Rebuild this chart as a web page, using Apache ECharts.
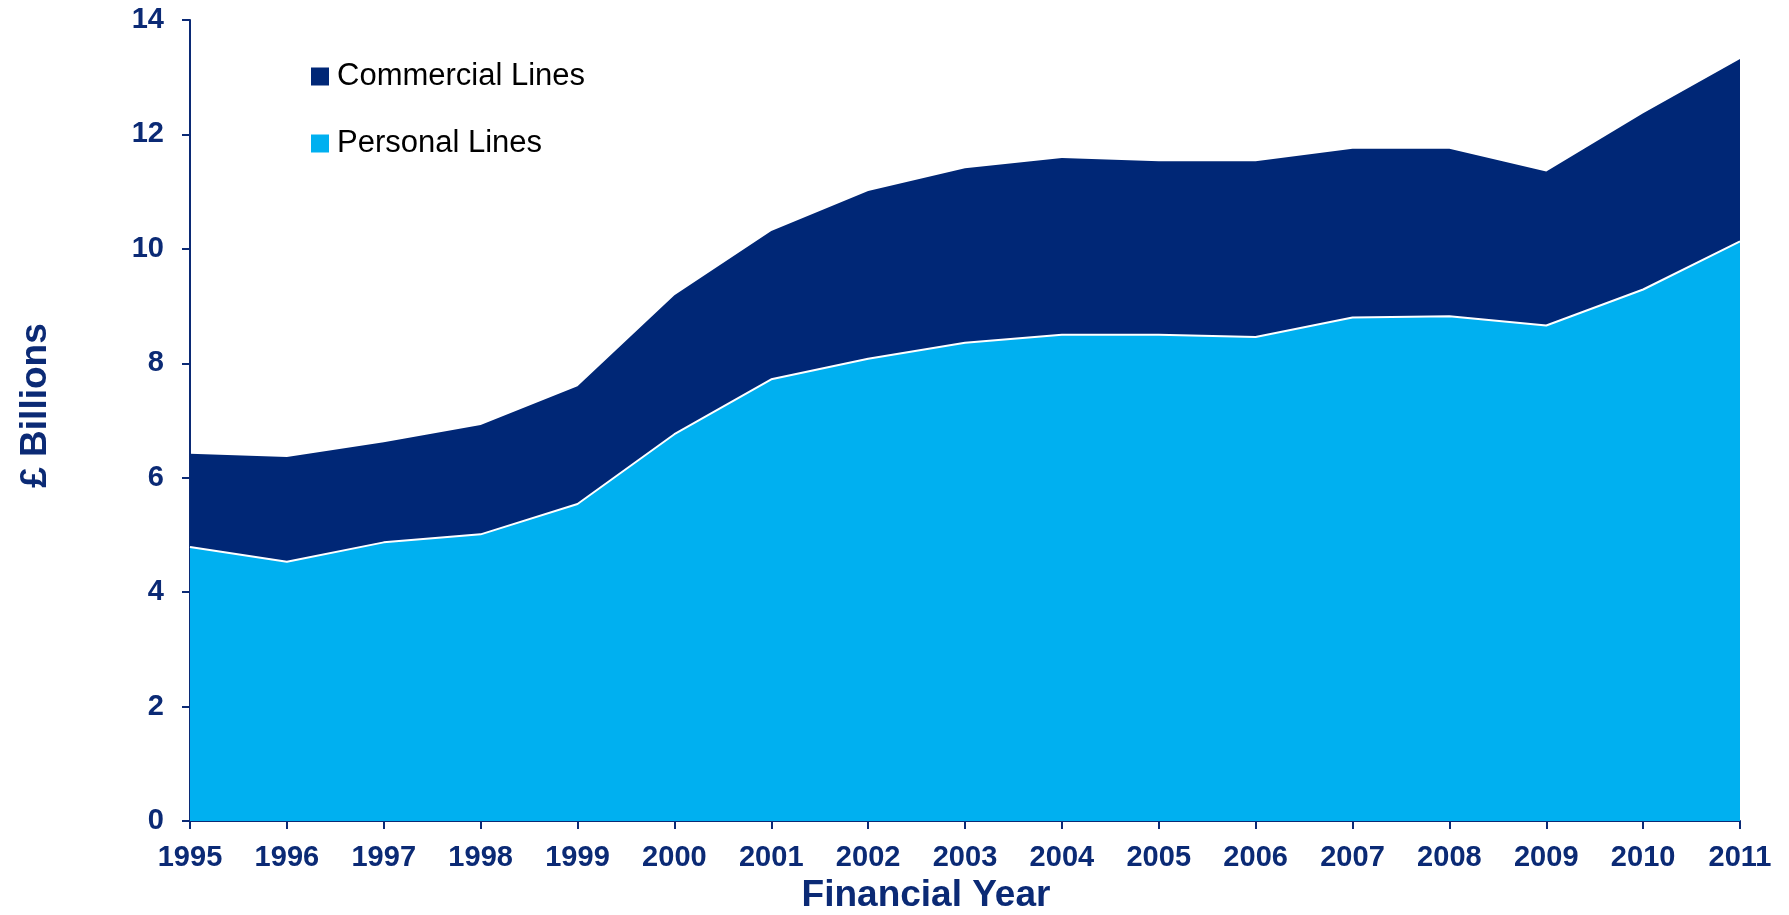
<!DOCTYPE html>
<html>
<head>
<meta charset="utf-8">
<title>Premiums by Financial Year</title>
<script src="https://cdn.jsdelivr.net/npm/echarts@6/dist/echarts.min.js"></script>
<style>
  html, body { margin: 0; padding: 0; background: #ffffff; }
  #chart { width: 1789px; height: 915px; }
</style>
</head>
<body>
<div id="chart"></div>
<script>
// Financial years on the category axis
const years = ['1995','1996','1997','1998','1999','2000','2001','2002','2003',
               '2004','2005','2006','2007','2008','2009','2010','2011'];

// Personal Lines (£ billions), bottom layer of the stack
const personalLines = [4.79, 4.53, 4.87, 5.01, 5.54, 6.76, 7.72, 8.08, 8.36,
                       8.50, 8.50, 8.46, 8.80, 8.82, 8.66, 9.29, 10.13];

// Commercial Lines (£ billions), stacked on top of Personal Lines
const commercialLines = [1.63, 1.83, 1.75, 1.91, 2.06, 2.43, 2.59, 2.93, 3.05,
                         3.09, 3.03, 3.07, 2.95, 2.93, 2.69, 3.08, 3.19];

// Value axis ticks
const yMin = 0, yMax = 14, yStep = 2;

const NAVY = '#002776';
const CYAN = '#00B0F0';
const AXIS = '#0B2A75';
const FONT = "'Liberation Sans', Arial, sans-serif";

const chart = echarts.init(document.getElementById('chart'), null, { renderer: 'canvas' });

chart.setOption({
  animation: false,
  backgroundColor: '#ffffff',
  grid: { left: 190, right: 49, top: 20, bottom: 94, containLabel: false, outerBoundsMode: 'none' },
  legend: {
    orient: 'vertical',
    left: 306,
    top: 56,
    itemWidth: 18,
    itemHeight: 18,
    itemGap: 36,
    icon: 'rect',
    data: ['Commercial Lines', 'Personal Lines'],
    textStyle: {
      fontFamily: FONT,
      fontSize: 31,
      color: '#000000',
      padding: [0, 0, 0, 3]
    }
  },
  xAxis: {
    type: 'category',
    data: years,
    boundaryGap: false,
    name: 'Financial Year',
    nameLocation: 'middle',
    nameGap: 52,
    nameTextStyle: {
      fontFamily: FONT,
      fontWeight: 'bold',
      fontSize: 37,
      color: AXIS,
      padding: [0, 78, 0, 0]
    },
    axisLine: { show: true, lineStyle: { color: AXIS, width: 2 } },
    axisTick: { show: true, length: 8, inside: false, lineStyle: { color: AXIS, width: 2 } },
    axisLabel: {
      margin: 22,
      fontFamily: FONT,
      fontWeight: 'bold',
      fontSize: 29,
      color: AXIS,
      interval: 0
    },
    splitLine: { show: false }
  },
  yAxis: {
    type: 'value',
    min: yMin,
    max: yMax,
    interval: yStep,
    name: '£ Billions',
    nameLocation: 'middle',
    nameGap: 136,
    nameRotate: 90,
    nameTextStyle: {
      fontFamily: FONT,
      fontWeight: 'bold',
      fontSize: 37,
      color: AXIS,
      padding: [0, 0, 0, 30]
    },
    axisLine: { show: true, lineStyle: { color: AXIS, width: 2 } },
    axisTick: { show: true, length: 8, inside: false, lineStyle: { color: AXIS, width: 2 } },
    axisLabel: {
      margin: 26,
      fontFamily: FONT,
      fontWeight: 'bold',
      fontSize: 29,
      color: AXIS
    },
    splitLine: { show: false }
  },
  series: [
    {
      name: 'Personal Lines',
      type: 'line',
      stack: 'total',
      data: personalLines,
      symbol: 'none',
      itemStyle: { color: CYAN },
      lineStyle: { color: '#ffffff', width: 2 },
      areaStyle: { color: CYAN, opacity: 1 },
      z: 3
    },
    {
      name: 'Commercial Lines',
      type: 'line',
      stack: 'total',
      data: commercialLines,
      symbol: 'none',
      itemStyle: { color: NAVY },
      lineStyle: { color: NAVY, width: 0, opacity: 0 },
      areaStyle: { color: NAVY, opacity: 1 },
      z: 2
    }
  ]
});
</script>
</body>
</html>
